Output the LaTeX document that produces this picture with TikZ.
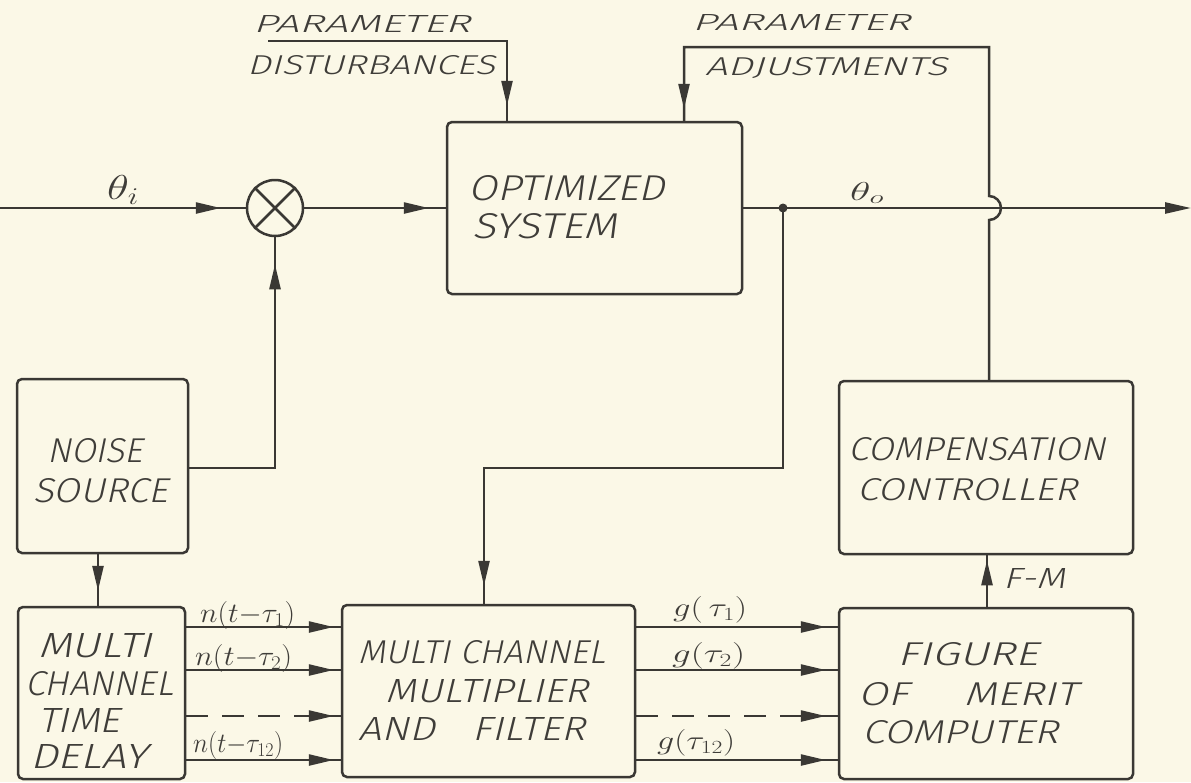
\documentclass[tikz,border=0pt]{standalone}
\usepackage{fontspec}
\usepackage{graphicx}
\newfontfamily\lett[FakeSlant=0.2]{Fira Sans Light}
\usetikzlibrary{arrows.meta,decorations.markings,calc}
\definecolor{ink}{HTML}{3A3834}
\definecolor{txt}{HTML}{3F3D39}
\definecolor{paper}{HTML}{FBF8E7}
\newcommand\fitbox[3]{\resizebox{#1pt}{#2pt}{#3}}
\tikzset{
  wire/.style={draw=ink,color=ink,line width=2.5pt},
  dashwire/.style={wire,dash pattern=on 22pt off 14pt},
  arrowat/.style={postaction={decorate},decoration={markings,
      mark=at position #1 with {\arrow{Triangle[length=25pt,width=11pt]}}}},
  endtip/.style={-{Triangle[length=26pt,width=11pt]}},
  box/.style={draw=ink,line width=2.5pt,rounded corners=5pt,inner sep=0pt},
  lbl/.style={anchor=base west,inner sep=0pt,text=txt,font=\lett\fontsize{30}{30}\selectfont},
  mlbl/.style={anchor=base west,inner sep=0pt,text=txt,font=\fontsize{24}{24}\selectfont},
}
\begin{document}
\begin{tikzpicture}[x=1pt,y=-1pt]
\fill[paper] (0,0) rectangle (1191,782);
\useasboundingbox (0,0) rectangle (1191,782);

% boxes
\node[box,minimum width=295pt,minimum height=172pt] (opt)   at (594.5,208) {};
\node[box,minimum width=171pt,minimum height=174pt] (noise) at (102.5,466) {};
\node[box,minimum width=167pt,minimum height=172pt] (delay) at (101.5,693) {};
\node[box,minimum width=293pt,minimum height=172pt] (mult)  at (488.5,691) {};
\node[box,minimum width=294pt,minimum height=171pt] (fom)   at (986,693.5) {};
\node[box,minimum width=294pt,minimum height=173pt] (comp)  at (986,467.5) {};
\node[draw=ink,line width=2.5pt,circle,minimum size=56pt,inner sep=0pt] (mul) at (275,208) {};
\draw[wire] (mul.45) -- (mul.225) (mul.135) -- (mul.-45);

% coordinates
\coordinate (in)  at (0,208);
\coordinate (out) at (1191,208);
\coordinate (j)   at (783,208);
\coordinate (fb)  at (484,468);
\coordinate (nz)  at (0,468);
\coordinate (nd)  at (98,0);
\coordinate (pd)  at (268,41);
\coordinate (pdx) at (507,0);
\coordinate (hx)  at (989,0);
\coordinate (hb)  at (0,220);
\coordinate (top) at (0,47);
\coordinate (pax) at (684,0);
\coordinate (fmx) at (987,0);
\coordinate (c1)  at (0,627);
\coordinate (c2)  at (0,670);
\coordinate (c3)  at (0,716);
\coordinate (c4)  at (0,760);

% main signal path
\draw[wire,arrowat=-25pt] (in) -- (mul.west);
\draw[wire,arrowat=-17pt] (mul.east) -- (opt.west);
\draw[wire,endtip] (opt.east) -- (out);
\fill[ink] (j) circle (4.5pt);
\draw[wire,arrowat=-18pt] (j) |- (fb) -- (fb |- mult.north);
\draw[wire,arrowat=-27pt] (noise.east |- nz) -| (mul.south);
\draw[wire,arrowat=-15pt] (noise.south -| nd) -- (delay.north -| nd);
\draw[wire,arrowat=-15pt] (pd) -| (opt.north -| pdx);
\draw[wire,arrowat=-12pt] (comp.north -| hx) -- (hx |- hb)
   arc[start angle=-90,end angle=90,radius=12pt] -- (hx |- top) -| (opt.north -| pax);
\draw[wire,arrowat=-5pt] (fom.north -| fmx) -- (comp.south -| fmx);

% channels
\draw[wire,arrowat=-7pt] (delay.east |- c1) -- (mult.west |- c1);
\draw[wire,arrowat=-7pt] (delay.east |- c2) -- (mult.west |- c2);
\draw[dashwire,arrowat=-7pt] (delay.east |- c3) -- (mult.west |- c3);
\draw[wire,arrowat=-7pt] (delay.east |- c4) -- (mult.west |- c4);
\draw[wire,arrowat=-12pt] (mult.east |- c1) -- (fom.west |- c1);
\draw[wire,arrowat=-12pt] (mult.east |- c2) -- (fom.west |- c2);
\draw[dashwire,arrowat=-12pt] (mult.east |- c3) -- (fom.west |- c3);
\draw[wire,arrowat=-12pt] (mult.east |- c4) -- (fom.west |- c4);

% texts
\node[lbl] (tpd1) at (253,32) {\fitbox{217}{17}{PARAMETER}};
\node[lbl] (tpd2) at (247,74) {\fitbox{248}{19}{DISTURBANCES}};
\node[lbl] (tpa1) at (692,30) {\fitbox{218}{16}{PARAMETER}};
\node[lbl] (tpa2) at (705,75) {\fitbox{242}{18}{ADJUSTMENTS}};
\node[lbl] (to1) at (468,200) {\fitbox{197}{25}{OPTIMIZED}};
\node[lbl] (to2) at (472,238) {\fitbox{145}{25}{SYSTEM}};
\node[mlbl] (thi) at (107,199) {\fitbox{32}{24}{$\theta_i$}};
\node[mlbl] (tho) at (850,200) {\fitbox{34}{18}{$\theta_o$}};
\node[lbl] (tn1) at (47,462) {\fitbox{96}{24}{NOISE}};
\node[lbl] (tn2) at (33,502) {\fitbox{135}{24}{SOURCE}};
\node[lbl] (td1) at (38,657) {\fitbox{114}{24}{MULTI}};
\node[lbl] (td2) at (25,695) {\fitbox{148}{24}{CHANNEL}};
\node[lbl] (td3) at (38,732) {\fitbox{82}{24}{TIME}};
\node[lbl] (td4) at (30,768) {\fitbox{117}{24}{DELAY}};
\node[lbl] (tm1) at (358,663) {\fitbox{247}{23}{MULTI CHANNEL}};
\node[lbl] (tm2) at (385,702) {\fitbox{203}{23}{MULTIPLIER}};
\node[lbl] (tm3) at (358,740) {\fitbox{227}{23}{AND\hspace{0.9em}FILTER}};
\node[lbl] (tc1) at (848,460) {\fitbox{257}{23}{COMPENSATION}};
\node[lbl] (tc2) at (857,500) {\fitbox{220}{22}{CONTROLLER}};
\node[lbl] (tfm) at (1003,588) {\fitbox{62}{20}{F-M}};
\node[lbl] (tf1) at (897,665) {\fitbox{141}{23}{FIGURE}};
\node[lbl] (tf2) at (858,705) {\fitbox{219}{23}{OF\hspace{1.3em}MERIT}};
\node[lbl] (tf3) at (862,743) {\fitbox{196}{23}{COMPUTER}};
\node[mlbl] (n1) at (200,622) {\fitbox{95}{21}{$n(t{-}\tau_1)$}};
\node[mlbl] (n2) at (195,665) {\fitbox{97}{21}{$n(t{-}\tau_2)$}};
\node[mlbl] (n3) at (193,752) {\fitbox{90}{21}{$n(t{-}\tau_{12})$}};
\node[mlbl] (g1) at (673,616) {\fitbox{74}{20}{$g(\,\tau_1)$}};
\node[mlbl] (g2) at (672,662) {\fitbox{73}{20}{$g(\tau_2)$}};
\node[mlbl] (g3) at (657,749) {\fitbox{78}{20}{$g(\tau_{12})$}};
\end{tikzpicture}
\end{document}
